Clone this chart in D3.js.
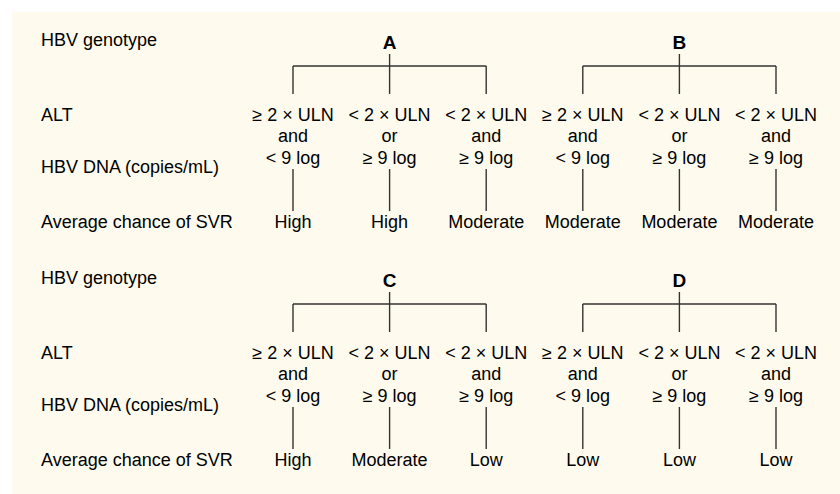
<!DOCTYPE html>
<html>
<head>
<meta charset="utf-8">
<script src="https://cdn.jsdelivr.net/npm/d3@7"></script>
<style>
  body { margin: 0; background: #fff; }
  svg text { font-family: "Liberation Sans", Arial, Helvetica, sans-serif; fill: #000; }
</style>
</head>
<body>
<div id="my_dataviz"></div>
<script>
// row labels down the left side
var rowLabels = ["HBV genotype", "ALT", "HBV DNA (copies/mL)", "Average chance of SVR"]
var genotypes = ["A", "B", "C", "D"]

// the three branches under each genotype
var altCond = ["\u2265 2 \u00d7 ULN", "< 2 \u00d7 ULN", "< 2 \u00d7 ULN"]
var joiners = ["and", "or", "and"]
var dnaCond = ["< 9 log", "\u2265 9 log", "\u2265 9 log"]

// outcome per genotype
var svrA = ["High", "High", "Moderate"]
var svrB = ["Moderate", "Moderate", "Moderate"]
var svrC = ["High", "Moderate", "Low"]
var svrD = ["Low", "Low", "Low"]
var svrAll = [svrA, svrB, svrC, svrD]

const width = 840, height = 494

const svg = d3.select("#my_dataviz")
    .append("svg")
    .attr("width", width)
    .attr("height", height)

svg.append("rect")
    .attr("x", 12).attr("y", 12)
    .attr("width", width - 12).attr("height", height - 12)
    .attr("fill", "#fefbee")

// columns: 6 leaves, 3 per genotype
const x = d3.scalePoint()
    .domain(d3.range(6))
    .range([293, 776])

// two panels stacked
const panel = d3.scaleBand()
    .domain([0, 1])
    .range([0, 476])

var lineColor = "#333"
var fs = "18px"

genotypes.forEach(function (g, gi) {
    var p = Math.floor(gi / 2)
    var side = gi % 2
    var g0 = svg.append("g").attr("transform", `translate(0,${panel(p)})`)
    var cols = [0, 1, 2].map(function (k) { return side * 3 + k })
    var mid = x(cols[1])

    if (side == 0) {
        // left labels only once per panel
        var ly = [40, 115, 167, 222]
        g0.selectAll(".rowlab")
            .data(rowLabels)
            .enter()
            .append("text")
            .attr("x", 41)
            .attr("y", function (d, i) { return ly[i] })
            .attr("dy", "0.35em")
            .style("font-size", fs)
            .text(function (d) { return d })
    }

    g0.append("text")
        .attr("x", mid)
        .attr("y", 42)
        .attr("dy", "0.35em")
        .attr("text-anchor", "middle")
        .style("font-size", "19px")
        .style("font-weight", "bold")
        .text(g)

    // bracket
    g0.append("line")
        .attr("x1", mid).attr("x2", mid)
        .attr("y1", 54).attr("y2", 94)
        .attr("stroke", lineColor).attr("stroke-width", 1.4)
    g0.append("line")
        .attr("x1", x(cols[0])).attr("x2", x(cols[2]))
        .attr("y1", 66).attr("y2", 66)
        .attr("stroke", lineColor).attr("stroke-width", 1.4)
    g0.selectAll(".drop")
        .data([cols[0], cols[2]])
        .enter()
        .append("line")
        .attr("x1", function (d) { return x(d) }).attr("x2", function (d) { return x(d) })
        .attr("y1", 66).attr("y2", 94)
        .attr("stroke", lineColor).attr("stroke-width", 1.4)

    var rows = [altCond, joiners, dnaCond]
    var ry = [115, 136, 158]
    rows.forEach(function (arr, ri) {
        g0.selectAll(".r" + ri)
            .data(arr)
            .enter()
            .append("text")
            .attr("x", function (d, k) { return x(cols[k]) })
            .attr("y", ry[ri])
            .attr("dy", "0.35em")
            .attr("text-anchor", "middle")
            .style("font-size", fs)
            .text(function (d) { return d })
    })

    g0.selectAll(".stem")
        .data(cols)
        .enter()
        .append("line")
        .attr("x1", function (d) { return x(d) }).attr("x2", function (d) { return x(d) })
        .attr("y1", 169).attr("y2", 211)
        .attr("stroke", lineColor).attr("stroke-width", 1.4)

    g0.selectAll(".svr")
        .data(svrAll[gi])
        .enter()
        .append("text")
        .attr("x", function (d, k) { return x(cols[k]) })
        .attr("y", 222)
        .attr("dy", "0.35em")
        .attr("text-anchor", "middle")
        .style("font-size", fs)
        .text(function (d) { return d })
})
</script>
</body>
</html>
